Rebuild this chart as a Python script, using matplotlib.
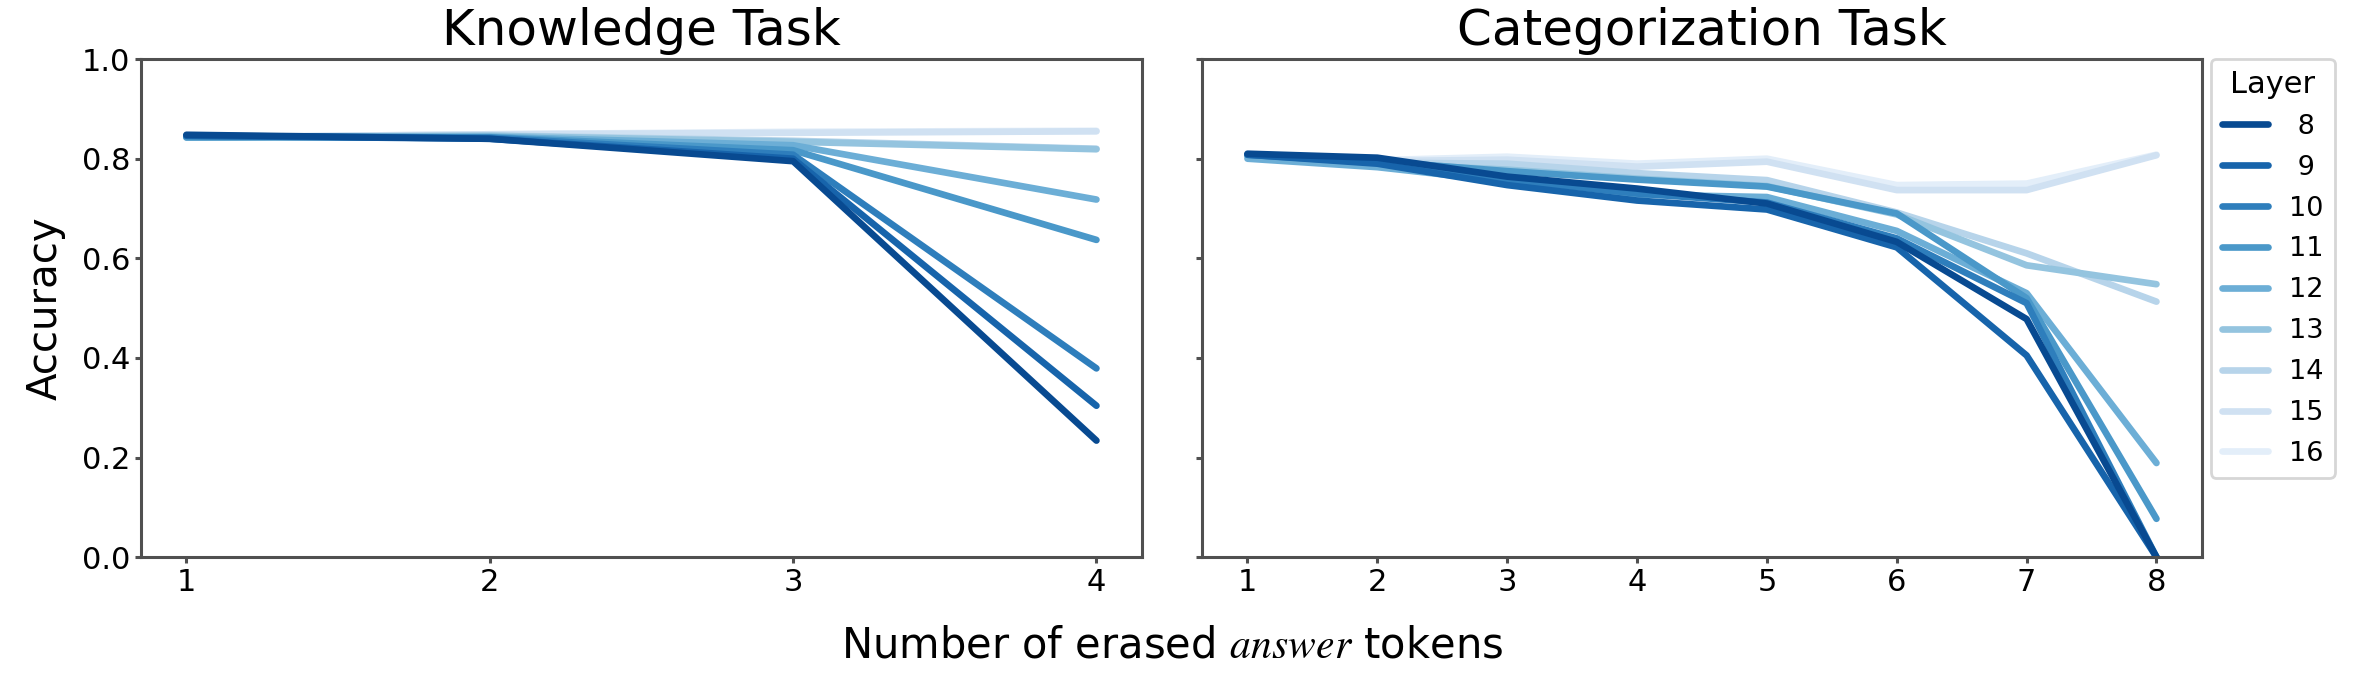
import numpy as np
import matplotlib
matplotlib.use("Agg")
import matplotlib.pyplot as plt
import seaborn as sns

plt.rcParams['font.family'] = ['DejaVu Sans']
plt.rcParams['mathtext.fontset'] = 'stix'

layers = [8, 9, 10, 11, 12, 13, 14, 15, 16]

# Knowledge task: accuracy vs number of erased answer tokens (1..4)
knowledge_x = [1, 2, 3, 4]
knowledge_acc = {
    8:  [0.848, 0.840, 0.795, 0.234],
    9:  [0.846, 0.840, 0.800, 0.304],
    10: [0.846, 0.842, 0.808, 0.379],
    11: [0.843, 0.843, 0.817, 0.637],
    12: [0.843, 0.844, 0.827, 0.718],
    13: [0.843, 0.846, 0.834, 0.819],
    14: [0.843, 0.847, 0.836, 0.820],
    15: [0.843, 0.849, 0.852, 0.855],
    16: [0.843, 0.849, 0.854, 0.856],
}

# Categorization task (1..8)
categ_x = [1, 2, 3, 4, 5, 6, 7, 8]
categ_acc = {
    8:  [0.810, 0.802, 0.764, 0.740, 0.710, 0.633, 0.478, 0.000],
    9:  [0.808, 0.790, 0.747, 0.716, 0.698, 0.622, 0.405, 0.000],
    10: [0.808, 0.792, 0.758, 0.730, 0.712, 0.640, 0.510, 0.000],
    11: [0.808, 0.795, 0.775, 0.758, 0.744, 0.690, 0.520, 0.077],
    12: [0.800, 0.783, 0.754, 0.728, 0.723, 0.655, 0.530, 0.189],
    13: [0.805, 0.790, 0.778, 0.760, 0.745, 0.688, 0.586, 0.548],
    14: [0.806, 0.792, 0.790, 0.771, 0.757, 0.692, 0.610, 0.513],
    15: [0.806, 0.795, 0.798, 0.784, 0.794, 0.737, 0.737, 0.807],
    16: [0.806, 0.797, 0.804, 0.790, 0.800, 0.747, 0.750, 0.808],
}

colors = dict(zip(layers, sns.color_palette("Blues_r", len(layers))))

fig = plt.figure(figsize=(23.56, 6.87), dpi=100)
ax1 = fig.add_axes([0.0598, 0.189, 0.4249, 0.725])
ax2 = fig.add_axes([0.5102, 0.189, 0.4244, 0.725], sharey=ax1)

spine_col = '#505050'
for ax, xs, data, title in [(ax1, knowledge_x, knowledge_acc, 'Knowledge Task'),
                            (ax2, categ_x, categ_acc, 'Categorization Task')]:
    # darkest layer drawn last so it sits on top
    for layer in reversed(layers):
        ax.plot(xs, data[layer], color=colors[layer], lw=4.8,
                solid_capstyle='round', label=f"{layer:>2}")
    ax.set_title(title, fontsize=36, pad=10)
    ax.set_xticks(xs)
    ax.set_ylim(0, 1.0)
    ax.set_yticks(np.arange(0, 1.01, 0.2))
    for sp in ax.spines.values():
        sp.set_color(spine_col)
        sp.set_linewidth(2.2)
    ax.tick_params(axis='both', labelsize=22, color=spine_col, width=2.2, length=4)

ax2.tick_params(axis='y', labelleft=False)
ax1.set_ylabel('Accuracy', fontsize=29, labelpad=12)

fig.text(0.4974, 0.06, r'Number of erased $\mathit{answer}$ tokens', fontsize=30,
         ha='center', va='center')

handles, labels = ax2.get_legend_handles_labels()
handles, labels = handles[::-1], labels[::-1]
leg = ax2.legend(handles, labels, title='Layer', loc='upper left',
                 bbox_to_anchor=(1.009, 1.0), borderaxespad=0, fontsize=19.5,
                 title_fontsize=22, handlelength=1.7, labelspacing=0.55,
                 frameon=True, fancybox=True)
leg.get_frame().set_linewidth(2)

fig.savefig('out.png', dpi=100)
